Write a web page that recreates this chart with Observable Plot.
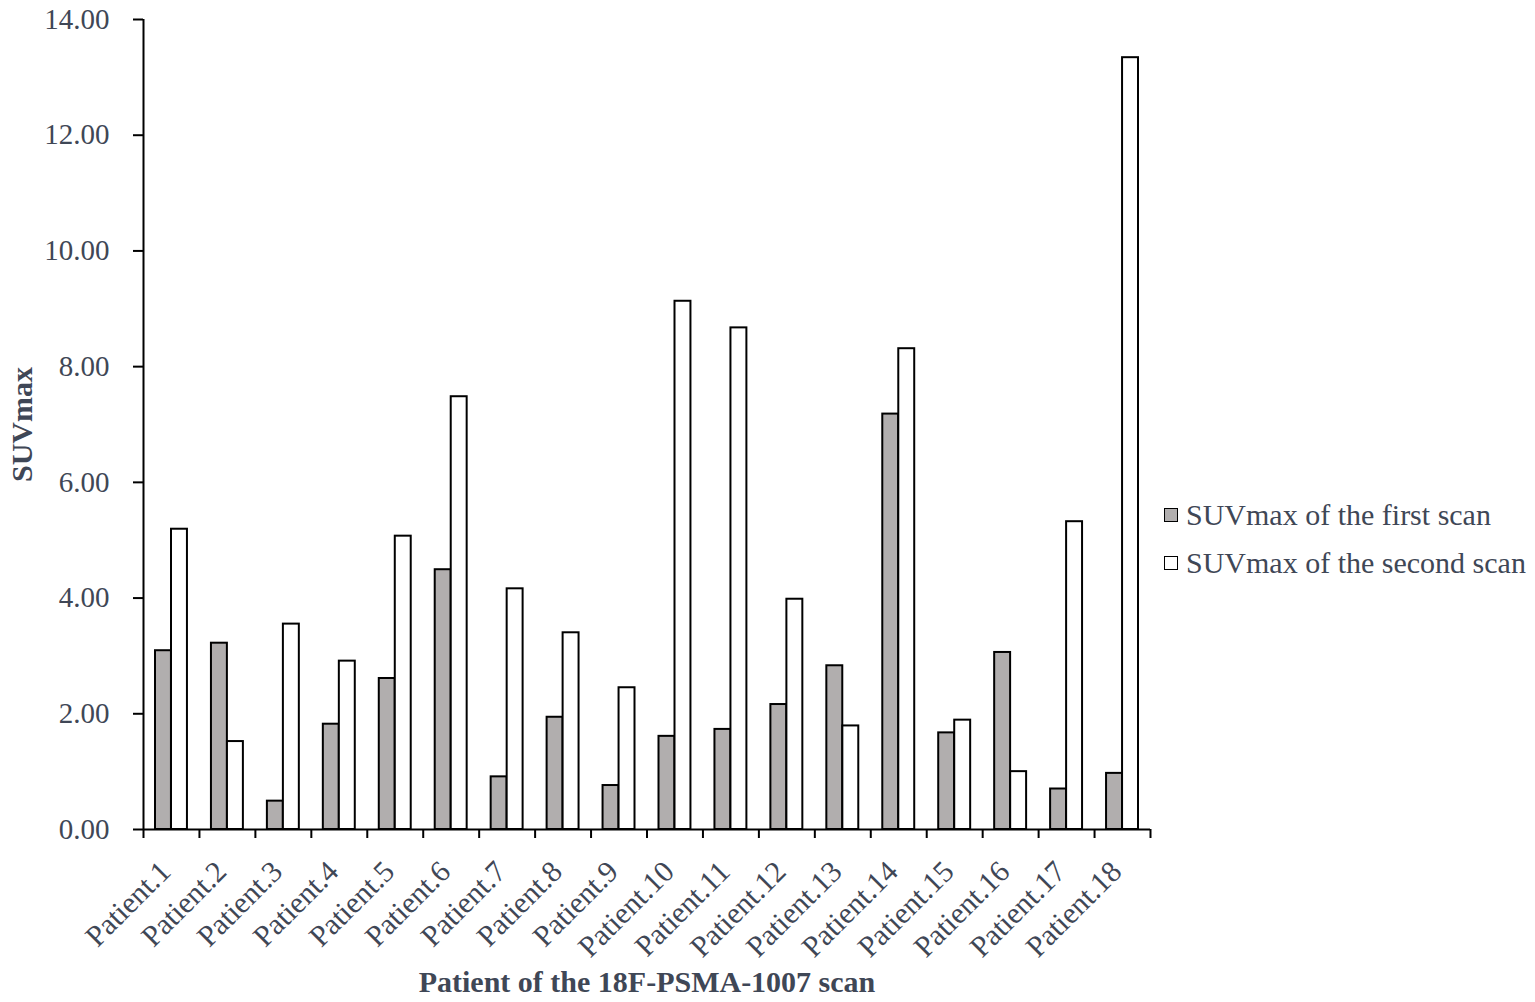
<!DOCTYPE html>
<html>
<head>
<meta charset="utf-8">
<script src="https://cdn.jsdelivr.net/npm/d3@7"></script>
<script src="https://cdn.jsdelivr.net/npm/@observablehq/plot@0.6"></script>
<style>
  html, body { margin: 0; padding: 0; background: #fff; }
  #wrap { position: relative; width: 1535px; height: 1002px; overflow: hidden; }
  #legend { position: absolute; left: 1164px; top: 491px; font-family: "Liberation Serif", "Times New Roman", serif; font-size: 30px; color: #3f4756; }
  .row { display: flex; align-items: center; height: 48px; white-space: nowrap; }
  .sw { width: 12px; height: 12px; border: 1.5px solid #000; margin-right: 8px; box-sizing: content-box; }
</style>
</head>
<body>
<div id="wrap"><div id="legend"></div></div>
<script>
const patients = ["Patient.1","Patient.2","Patient.3","Patient.4","Patient.5","Patient.6","Patient.7","Patient.8","Patient.9","Patient.10","Patient.11","Patient.12","Patient.13","Patient.14","Patient.15","Patient.16","Patient.17","Patient.18"];
const firstScan = [3.09,3.22,0.49,1.82,2.61,4.49,0.91,1.94,0.76,1.61,1.73,2.16,2.83,7.18,1.67,3.06,0.70,0.97];
const secondScan = [5.19,1.52,3.55,2.91,5.07,7.48,4.16,3.40,2.45,9.13,8.67,3.98,1.79,8.31,1.89,1.00,5.32,13.34];
const seriesNames = ["SUVmax of the first scan","SUVmax of the second scan"];
const seriesFills = ["#b1aeae","#ffffff"];
const yTicks = [0,2,4,6,8,10,12,14];

const W = 1535, H = 1002;
const mL = 143, mR = 385, mT = 19, mB = 173;
const step = (W - mL - mR) / patients.length;
const textColor = "#3f4756";

const firstData = patients.map((p, i) => ({patient: p, value: firstScan[i]}));
const secondData = patients.map((p, i) => ({patient: p, value: secondScan[i]}));

const chart = Plot.plot({
  width: W, height: H,
  marginLeft: mL, marginRight: mR, marginTop: mT, marginBottom: mB,
  style: {fontFamily: "'Liberation Serif', 'Times New Roman', serif", background: "#fff", color: textColor},
  x: {domain: patients, padding: 0, round: false},
  y: {domain: [0, 14]},
  marks: [
    Plot.barY(firstData, {x: "patient", y: "value", fill: seriesFills[0], stroke: "#000", strokeWidth: 2, insetLeft: 20, insetRight: 20, dx: -8}),
    Plot.barY(secondData, {x: "patient", y: "value", fill: seriesFills[1], stroke: "#000", strokeWidth: 2, insetLeft: 20, insetRight: 20, dx: 8}),
    Plot.ruleY([0], {stroke: "#000", strokeWidth: 2}),
    Plot.ruleX([patients[0]], {y1: 0, y2: 14, dx: -step / 2, stroke: "#000", strokeWidth: 2}),
    Plot.axisY({ticks: yTicks, tickFormat: d => d.toFixed(2), tickSize: 10, tickPadding: 24, stroke: "#000", strokeWidth: 2, fill: textColor, fontSize: 29, label: null}),
    Plot.axisX({tickSize: 9, tickFormat: () => "", dx: -step / 2, stroke: "#000", strokeWidth: 2, label: null}),
    Plot.axisX([patients[patients.length - 1]], {tickSize: 9, tickFormat: () => "", dx: step / 2, stroke: "#000", strokeWidth: 2, label: null}),
    Plot.axisX({tickSize: 0, tickPadding: 37, dx: -6, tickRotate: -45, fill: textColor, fontSize: 30, label: null}),
    Plot.text(["Patient of the 18F-PSMA-1007 scan"], {frameAnchor: "bottom", dy: 162, fontWeight: "bold", fontSize: 30, fill: textColor}),
    Plot.text(["SUVmax"], {frameAnchor: "left", textAnchor: "middle", rotate: -90, dx: -121, fontWeight: "bold", fontSize: 30, fill: textColor})
  ]
});
document.getElementById("wrap").prepend(chart);

const legend = document.getElementById("legend");
seriesNames.forEach((name, i) => {
  const row = document.createElement("div");
  row.className = "row";
  const sw = document.createElement("span");
  sw.className = "sw";
  sw.style.background = seriesFills[i];
  row.appendChild(sw);
  const t = document.createElement("span");
  t.textContent = name;
  row.appendChild(t);
  legend.appendChild(row);
});
</script>
</body>
</html>
